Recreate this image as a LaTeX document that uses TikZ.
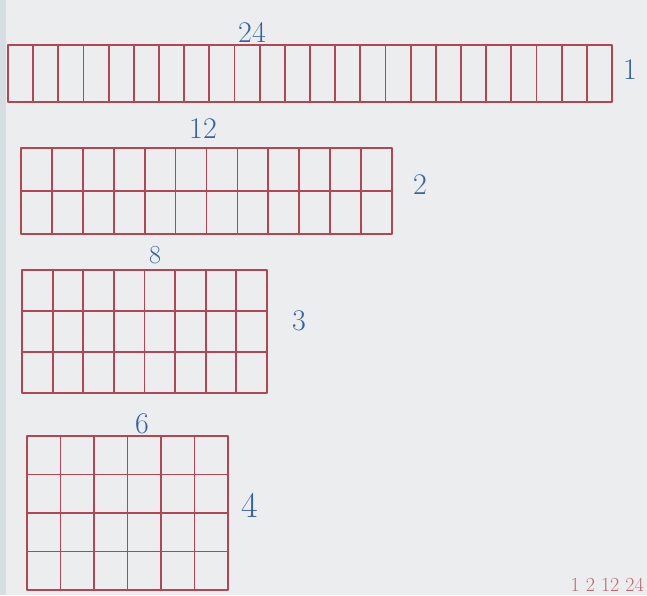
\documentclass[tikz,border=0pt]{standalone}
\usepackage{xcolor}
\usepackage{tikz}
\usetikzlibrary{positioning}

\definecolor{paper}{RGB}{236,237,238}
\definecolor{edge}{RGB}{214,222,228}
\definecolor{penred}{RGB}{178,70,84}
\definecolor{penblue}{RGB}{52,100,160}

\tikzset{
  gridline/.style={penred, line width=1.8pt, line cap=round, line join=round},
  lbl/.style={penblue, inner sep=0pt, font=\fontsize{30}{30}\selectfont},
  smalllbl/.style={lbl, font=\fontsize{26}{26}\selectfont}
}

\begin{document}
\begin{tikzpicture}[x=1pt, y=-1pt]
        \useasboundingbox (0,0) rectangle (647,595);
        \fill[paper] (0,0) rectangle (647,595);
        \fill[edge] (0,0) rectangle (6,595);

        % cols/rows/left/top/right/bottom
        \foreach \c/\r/\xa/\ya/\xb/\yb in {24/1/8/45/612/102, 12/2/21/148/392/234, 8/3/22/270/267/393, 6/4/27/436/228/590}{
            \draw[gridline] (\xa,\ya) rectangle (\xb,\yb);
            \pgfmathsetmacro{\cmax}{\c-1}
            \foreach \i in {1,...,\cmax}
                \draw[gridline] ({\xa+\i*(\xb-\xa)/\c},\ya) -- ({\xa+\i*(\xb-\xa)/\c},\yb);
            \ifnum\r>1
                \pgfmathsetmacro{\rmax}{\r-1}
                \foreach \j in {1,...,\rmax}
                    \draw[gridline] (\xa,{\ya+\j*(\yb-\ya)/\r}) -- (\xb,{\ya+\j*(\yb-\ya)/\r});
            \fi
        }

        \node[lbl] (top1) at (252,32) {24};
        \node[lbl] (side1) at (630,70) {1};

        \node[lbl] (top2) at (203,129) {12};
        \node[lbl] (side2) at (420,185) {2};

        \node[smalllbl] (top3) at (155,255) {8};
        \node[lbl] (side3) at (299,321) {3};

        \node[lbl] (top4) at (142,424) {6};
        \node[lbl, font=\fontsize{36}{36}\selectfont] (side4) at (250,505) {4};

        \node[lbl, penred!80!paper, font=\fontsize{20}{20}\selectfont, anchor=south east] (factors) at (644,592) {1 2 12 24};
    \end{tikzpicture}
\end{document}
